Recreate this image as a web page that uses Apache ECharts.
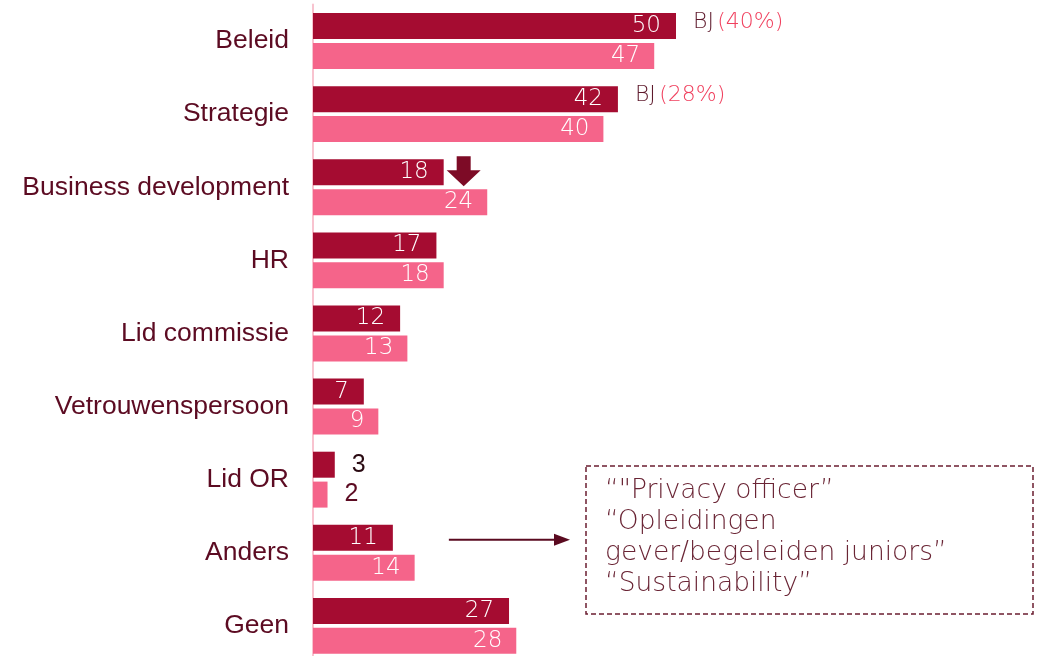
<!DOCTYPE html>
<html><head><meta charset="utf-8">
<script src="https://cdn.jsdelivr.net/npm/echarts@6/dist/echarts.min.js"></script>
<style>html,body{margin:0;padding:0;background:#fff;overflow:hidden}#c{width:1043px;height:656px}</style>
</head><body><div id="c"></div>
<script>
const categories = ['Beleid','Strategie','Business development','HR','Lid commissie','Vetrouwenspersoon','Lid OR','Anders','Geen'];
const seriesA = [50,42,18,17,12,7,3,11,27];
const seriesB = [47,40,24,18,13,9,2,14,28];
const bjNotes = [{cat:'Beleid', value:50, pct:'(40%)'},{cat:'Strategie', value:42, pct:'(28%)'}];
const boxLines = ['\u201C"Privacy officer\u201D','\u201COpleidingen','gever/begeleiden juniors\u201D','\u201CSustainability\u201D'];

const DARK='#A50C31', PINK='#F5648A', MAROON='#5C0B22';
const thin = '"DejaVu Sans", sans-serif';

function mkData(vals, color){
  return vals.map(v => v < 5 ? {value:v, label:{position:'right', distance:17, color: color, fontFamily:'"Liberation Sans", Arial, sans-serif', fontSize:25, fontWeight:'normal'}} : v);
}
const chart = echarts.init(document.getElementById('c'));
const option = {
  animation:false,
  grid:{left:313, width:435.6, top:4.5, height:657.9, containLabel:false, outerBoundsMode:'none'},
  xAxis:{type:'value', min:0, max:60, show:false},
  yAxis:{type:'category', data:categories, inverse:true,
    axisLine:{show:true, lineStyle:{color:'#F8C3CF', width:2}},
    axisTick:{show:false},
    axisLabel:{fontSize:26.5, color:MAROON, margin:24, fontFamily:'"Liberation Sans", Arial, sans-serif'}},
  series:[
    {type:'bar', data:mkData(seriesA,'#2a0a12'), barWidth:26, barGap:'15%', itemStyle:{color:DARK},
     label:{show:true, position:'insideRight', distance:15, color:'#fff', fontSize:23, fontFamily:thin, fontWeight:200}},
    {type:'bar', data:mkData(seriesB,MAROON), barWidth:26, barGap:'15%', itemStyle:{color:PINK},
     label:{show:true, position:'insideRight', distance:14, color:'#fff', fontSize:23, fontFamily:thin, fontWeight:200}}
  ]
};
chart.setOption(option);

const off = -15; // dark bar center relative to category center
const g = [];
bjNotes.forEach(n => {
  const p = chart.convertToPixel({gridIndex:0}, [n.value, n.cat]);
  g.push({type:'text', x:p[0]+17, y:p[1]+off-4, style:{verticalAlign:'middle',
    text:'{a|BJ} {b|'+n.pct+'}', rich:{a:{fill:'#5E1A2C', fontSize:22, fontFamily:thin, fontWeight:200}, b:{fill:'#F0405E', fontSize:22, fontFamily:thin, fontWeight:200}}}});
});
// down arrow next to Business development
(function(){
  const p = chart.convertToPixel({gridIndex:0}, [18, 'Business development']);
  const cx = p[0]+20, top = p[1]-31;
  g.push({type:'polygon', shape:{points:[[cx-7,top],[cx+7,top],[cx+7,top+14],[cx+17,top+14],[cx,top+30],[cx-17,top+14],[cx-7,top+14]]}, style:{fill:'#7D0B26'}});
})();
// arrow from Anders to box
(function(){
  const p = chart.convertToPixel({gridIndex:0}, [11, 'Anders']);
  const y = p[1]+off+2, x0 = p[0]+56, x1 = 570;
  g.push({type:'line', shape:{x1:x0, y1:y, x2:x1-14, y2:y}, style:{stroke:'#5A0A20', lineWidth:2}});
  g.push({type:'polygon', shape:{points:[[x1-16,y-6],[x1,y],[x1-16,y+6]]}, style:{fill:'#5A0A20'}});
})();
g.push({type:'rect', shape:{x:586, y:466, width:447, height:148}, style:{fill:'none', stroke:'#6B1E30', lineWidth:1.5, lineDash:[5,3]}});
boxLines.forEach((t,i) => {
  g.push({type:'text', x:605, y:491+i*31, style:{text:t, verticalAlign:'middle', fill:'#6A2535', fontSize:26.5, fontFamily:thin, fontWeight:200}});
});
chart.setOption({graphic:g});
</script></body></html>
